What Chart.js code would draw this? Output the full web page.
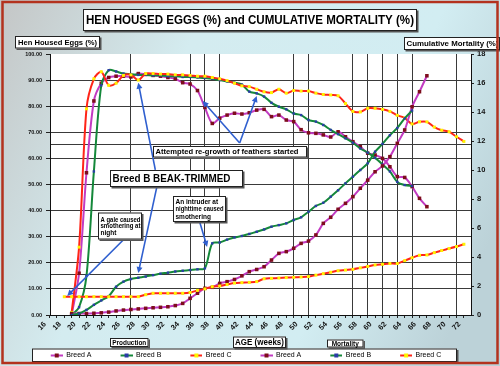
<!DOCTYPE html>
<html>
<head>
<meta charset="utf-8">
<script src="https://cdn.jsdelivr.net/npm/chart.js@4.4.1/dist/chart.umd.min.js"></script>
<style>
  html, body { margin: 0; padding: 0; background: #c9c9c9; }
  #chart { display: block; }
</style>
</head>
<body>
<canvas id="chart" width="500" height="366"></canvas>
<script>
// weeks of age (x values)
const weeks = [19, 20, 21, 22, 23, 24, 25, 26, 27, 28, 29, 30, 31, 32, 33, 34, 35, 36, 37, 38,
  39, 40, 41, 42, 43, 44, 45, 46, 47, 48, 49, 50, 51, 52, 53, 54, 55, 56, 57, 58,
  59, 60, 61, 62, 63, 64, 65, 66, 67, 68, 69, 70, 71, 72, 73];

// hen housed eggs (%), left axis
const eggA = [null, 0, 16, 54.5, 82, 88.8, 91, 91.5, 91.5, 91.2, 92.5, 92.2, 91.8, 91.5, 91, 90.5, 89, 88.5, 86, 79.5,
  73.4, 75.4, 76.6, 77.3, 77, 77.5, 78.5, 78.8, 76, 76.6, 74.7, 74.1, 71, 69.8, 69.6, 69, 68.2, 70.2, 68.3, 66.4,
  64.5, 62, 61.3, 60, 56.8, 53, 52.7, 49.2, 44.7, 41.5, null, null, null, null, null];
const eggB = [null, 0, 3, 15, 55, 88, 93.8, 93.3, 92.5, 92.3, 92, 92, 91.8, 91.8, 91.5, 91.5, 91.2, 91.2, 91, 90.8,
  90.5, 90, 89.5, 89, 88.3, 85.6, 84.9, 83.7, 81.3, 79.8, 78.8, 77.2, 76.6, 74.7, 74.1, 72.8, 70.9, 69.3, 67.7, 66,
  63.8, 62.2, 60.2, 57.7, 55, 51, 49.8, 49.4, null, null, null, null, null, null, null];
const eggC = [null, 1, 26, 79, 90.5, 93.2, 88, 88.8, 91.8, 92, 90, 92.5, 92.5, 92.3, 92.3, 92, 92, 91.8, 91.5, 91.5,
  91, 90.5, 89.8, 88.8, 87.8, 87.5, 86.5, 85.5, 85.2, 86.5, 85, 86, 85.8, 85.8, 85, 84.5, 84.3, 84, 81, 78,
  77.8, 79.2, 79.2, 78.8, 78, 76.5, 75.5, 73.2, 74, 74, 72, 70.8, 70.2, 68.3, 66.5];

// cumulative mortality (%), right axis
const mortA = [null, 0.1, 0.1, 0.1, 0.12, 0.15, 0.2, 0.28, 0.34, 0.38, 0.42, 0.46, 0.5, 0.53, 0.57, 0.65, 0.8, 1.15, 1.5, 1.84,
  1.91, 2.18, 2.3, 2.45, 2.7, 2.99, 3.14, 3.33, 3.79, 4.25, 4.37, 4.6, 4.94, 5.1, 5.52, 6.32, 6.74, 7.29, 7.7, 8.16,
  8.74, 9.3, 9.88, 10.28, 10.92, 11.84, 12.76, 14.36, 15.4, 16.5, null, null, null, null, null];
const mortB = [null, 0, 0.1, 0.35, 0.7, 1.0, 1.3, 1.95, 2.3, 2.48, 2.57, 2.65, 2.75, 2.85, 2.92, 3.0, 3.05, 3.1, 3.15, 3.22,
  4.94, 5.0, 5.2, 5.35, 5.45, 5.59, 5.74, 5.9, 6.09, 6.2, 6.32, 6.55, 6.74, 7.12, 7.52, 7.74, 8.16, 8.6, 9.08, 9.54,
  10.0, 10.46, 11.26, 11.8, 12.4, 12.9, 13.56, 14.1, null, null, null, null, null, null, null];
const mortC = [1.26, 1.26, 1.26, 1.26, 1.26, 1.26, 1.26, 1.26, 1.26, 1.26, 1.26, 1.4, 1.5, 1.5, 1.5, 1.5, 1.5, 1.55, 1.7, 1.8,
  1.95, 2.0, 2.1, 2.2, 2.23, 2.25, 2.3, 2.5, 2.53, 2.55, 2.58, 2.6, 2.62, 2.65, 2.75, 2.85, 2.95, 3.05, 3.1, 3.15,
  3.25, 3.35, 3.45, 3.5, 3.55, 3.55, 3.75, 3.95, 4.12, 4.14, 4.3, 4.45, 4.58, 4.72, 4.88];

// axis ticks
const weekLabels = [16, 18, 20, 22, 24, 26, 28, 30, 32, 34, 36, 38, 40, 42, 44, 46, 48, 50, 52, 54,
  56, 58, 60, 62, 64, 66, 68, 70, 72];
const weekLines = [28, 36, 38, 40, 50, 52, 58, 60, 62, 64, 66, 72];
const eggTicks = [0, 10, 15.4, 20, 30, 40, 50, 60, 65.5, 70, 80, 90, 100];

const breeds = [
  { label: 'Breed A', line: '#c23bc2', mark: '#7d0d1c', r: 2.5 },
  { label: 'Breed B', line: '#14883a', mark: '#2a3ca6', r: 1.7 },
  { label: 'Breed C', line: '#ff2418', mark: '#fff200', r: 2.1 }
];

const FONT = '"Liberation Sans", Arial, sans-serif';

// annotation boxes (pixel layout) and pointers (data coordinates: week, egg %)
const notes = [
  { box: [83, 9, 334, 22], lines: ['HEN HOUSED EGGS (%) and CUMULATIVE MORTALITY (%)'], size: 13, fit: 328, align: 'center' },
  { box: [15, 36, 85, 12.5], lines: ['Hen Housed Eggs (%)'], size: 8, fit: 79, align: 'center' },
  { box: [404, 37, 96, 13], lines: ['Cumulative Mortality (%)'], size: 8, fit: 92, align: 'left' },
  { box: [110, 170, 133, 17], lines: ['Breed B BEAK-TRIMMED'], size: 11, fit: 118, align: 'left' },
  { box: [153, 146, 154, 11.5], lines: ['Attempted re-growth of feathers started'], size: 8, fit: 143, align: 'left' },
  { box: [98, 212.5, 44, 27], lines: ['A gale caused', 'smothering at', 'night'], size: 6.5, fit: 40, align: 'left', lh: 6.7 },
  { box: [173, 196, 53, 26], lines: ['An intruder at', 'nighttime caused', 'smothering'], size: 6.5, fit: 48, align: 'left', lh: 7.3 },
  { box: [110, 338, 38.5, 9], lines: ['Production'], size: 6.5, fit: 34, align: 'center' },
  { box: [233, 336.5, 53, 11.5], lines: ['AGE (weeks)'], size: 8.5, fit: 49, align: 'center' },
  { box: [327, 339.5, 36.5, 8], lines: ['Mortality'], size: 6.5, fit: 30, align: 'center' }
];
const pointers = [
  [[42.7, 65.9], [37.7, 82.0]],
  [[42.7, 65.9], [45.0, 83.9]],
  [[31.3, 55.6], [29.0, 89.0]],
  [[31.5, 49.0], [29.0, 16.1]],
  [[27.1, 29.1], [19.4, 7.3]],
  [[37.3, 35.6], [38.3, 26.1]]
];

function panel(ctx, x, y, w, h) {
  ctx.fillStyle = '#555';
  ctx.fillRect(x + 1.5, y + 1.5, w, h);
  ctx.fillStyle = '#fff';
  ctx.fillRect(x, y, w, h);
  ctx.strokeStyle = '#222';
  ctx.lineWidth = 1;
  ctx.strokeRect(x + 0.5, y + 0.5, w - 1, h - 1);
}

function fitText(ctx, text, x, y, size, maxW, align) {
  ctx.font = 'bold ' + size + 'px ' + FONT;
  const w = ctx.measureText(text).width;
  const k = maxW && w > maxW ? maxW / w : 1;
  ctx.save();
  ctx.translate(x, y);
  ctx.scale(k, 1);
  ctx.textAlign = align;
  ctx.textBaseline = 'middle';
  ctx.fillStyle = '#000';
  ctx.fillText(text, 0, 0);
  ctx.restore();
}

// legend marker: blank lead-in, then a short line with the point marker
function legendIcon(b) {
  const c = document.createElement('canvas');
  c.width = 22;
  c.height = 6;
  const g = c.getContext('2d');
  g.strokeStyle = b.line;
  g.lineWidth = 2;
  g.beginPath();
  g.moveTo(10, 3);
  g.lineTo(22, 3);
  g.stroke();
  g.fillStyle = b.mark;
  g.fillRect(14, 1, 4, 4);
  return c;
}
const icons = breeds.map(legendIcon);

const backdrop = {
  id: 'backdrop',
  beforeDraw(chart) {
    const { ctx, chartArea: a, width, height } = chart;
    ctx.save();
    const g = ctx.createLinearGradient(0, 0, width, height * 0.6);
    g.addColorStop(0, '#c4c6c6');
    g.addColorStop(0.35, '#d4ecf0');
    g.addColorStop(0.75, '#d2edf2');
    g.addColorStop(1, '#bcd2d8');
    ctx.fillStyle = g;
    ctx.fillRect(0, 0, width, height);
    ctx.fillStyle = '#fff';
    ctx.fillRect(a.left, a.top, a.right - a.left, a.bottom - a.top);
    panel(ctx, 32, 348.5, 425, 13.5);
    ctx.restore();
  }
};

const annotate = {
  id: 'annotate',
  afterDatasetsDraw(chart) {
    const { ctx, scales: { x, y } } = chart;
    ctx.save();
    ctx.strokeStyle = '#2f5fcf';
    ctx.fillStyle = '#2f5fcf';
    ctx.lineWidth = 1.6;
    pointers.forEach(([from, to]) => {
      const x0 = x.getPixelForValue(from[0]), y0 = y.getPixelForValue(from[1]);
      const x1 = x.getPixelForValue(to[0]), y1 = y.getPixelForValue(to[1]);
      const ang = Math.atan2(y1 - y0, x1 - x0);
      ctx.beginPath();
      ctx.moveTo(x0, y0);
      ctx.lineTo(x1 - 4 * Math.cos(ang), y1 - 4 * Math.sin(ang));
      ctx.stroke();
      ctx.beginPath();
      ctx.moveTo(x1, y1);
      ctx.lineTo(x1 - 6 * Math.cos(ang) + 3 * Math.sin(ang), y1 - 6 * Math.sin(ang) - 3 * Math.cos(ang));
      ctx.lineTo(x1 - 6 * Math.cos(ang) - 3 * Math.sin(ang), y1 - 6 * Math.sin(ang) + 3 * Math.cos(ang));
      ctx.closePath();
      ctx.fill();
    });
    ctx.restore();
  },
  afterDraw(chart) {
    const { ctx, width, height } = chart;
    ctx.save();
    notes.forEach(n => {
      const [bx, by, bw, bh] = n.box;
      panel(ctx, bx, by, bw, bh);
      const lh = n.lh || 0;
      const y0 = by + bh / 2 - (n.lines.length - 1) * lh / 2;
      const tx = n.align === 'center' ? bx + bw / 2 : bx + 2.5;
      n.lines.forEach((t, i) => fitText(ctx, t, tx, y0 + i * lh + 0.5, n.size, n.fit, n.align));
    });
    // outer frame
    ctx.strokeStyle = '#b3321e';
    ctx.lineWidth = 2.5;
    ctx.strokeRect(2.5, 2, width - 5, height - 5);
    ctx.restore();
  }
};

Chart.defaults.font.family = FONT;
Chart.defaults.color = '#111';

const sets = [eggA, eggB, eggC, mortA, mortB, mortC].map((data, i) => {
  const b = breeds[i % 3];
  return {
    label: b.label,
    data,
    yAxisID: i < 3 ? 'y' : 'y2',
    borderColor: b.line,
    backgroundColor: b.mark,
    borderWidth: 2,
    pointStyle: 'rect',
    pointRadius: b.r,
    pointBorderWidth: 0,
    pointBackgroundColor: b.mark,
    tension: 0.3,
    order: 6 - i
  };
});

new Chart(document.getElementById('chart'), {
  type: 'line',
  data: { labels: weeks, datasets: sets },
  options: {
    responsive: false,
    animation: false,
    devicePixelRatio: 1,
    layout: { padding: { top: 54, left: -10, right: 8, bottom: -3 } },
    plugins: {
      tooltip: { enabled: false },
      legend: {
        position: 'bottom',
        labels: {
          usePointStyle: true,
          pointStyleWidth: 22,
          boxHeight: 6,
          padding: 19,
          color: '#111',
          font: { size: 7 },
          generateLabels: chart => chart.data.datasets.map((ds, i) => ({
            text: ds.label,
            pointStyle: icons[i % 3],
            fillStyle: ds.backgroundColor,
            strokeStyle: ds.borderColor,
            lineWidth: 0,
            hidden: false,
            datasetIndex: i
          }))
        }
      }
    },
    scales: {
      x: {
        type: 'linear',
        min: 17.07,
        max: 73.96,
        afterBuildTicks: s => {
          const t = [];
          for (let w = 16; w <= 73; w++) t.push({ value: w });
          s.ticks = t;
        },
        afterFit: s => { s.height = 18; },
        ticks: {
          autoSkip: false,
          minRotation: 45,
          maxRotation: 45,
          padding: 2,
          labelOffset: 3,
          font: { size: 7.5, weight: 'bold' },
          callback: v => weekLabels.includes(v) ? String(v) : ''
        },
        grid: {
          color: c => weekLines.includes(c.tick && c.tick.value) ? '#3a3a3a' : 'rgba(0,0,0,0)',
          tickColor: c => (c.tick && c.tick.value < 17) ? 'rgba(0,0,0,0)' : '#222',
          tickLength: 3,
          lineWidth: 1
        },
        border: { color: '#111', width: 1 }
      },
      y: {
        position: 'left',
        min: 0,
        max: 100,
        afterBuildTicks: s => { s.ticks = eggTicks.map(v => ({ value: v })); },
        afterFit: s => { s.width = 60; },
        ticks: {
          padding: 4,
          font: { size: 5.5, weight: 'bold' },
          callback: v => (v % 10 === 0 ? v.toFixed(2) : '')
        },
        grid: {
          color: c => (c.tick && (c.tick.value === 100 || c.tick.value === 0)) ? 'rgba(0,0,0,0)' : '#3a3a3a',
          tickColor: c => (c.tick && c.tick.value % 10 !== 0) ? 'rgba(0,0,0,0)' : '#222',
          tickLength: 4,
          lineWidth: 1
        },
        border: { color: '#111', width: 1 }
      },
      y2: {
        position: 'right',
        min: 0,
        max: 18,
        afterFit: s => { s.width = 21; },
        ticks: { stepSize: 2, padding: 3, font: { size: 7.5, weight: 'bold' } },
        grid: { drawOnChartArea: false, tickLength: 3, tickColor: '#222' },
        border: { color: '#111', width: 1 }
      }
    }
  },
  plugins: [backdrop, annotate]
});
</script>
</body>
</html>
